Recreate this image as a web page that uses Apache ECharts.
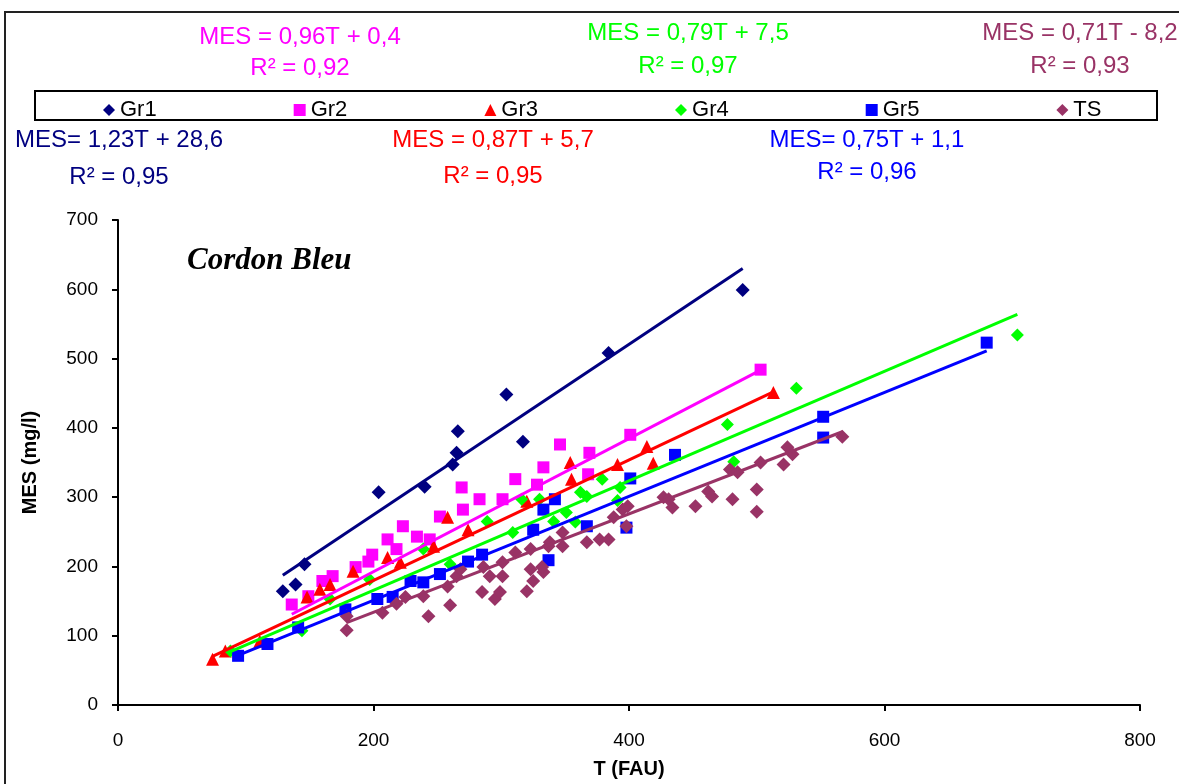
<!DOCTYPE html>
<html><head><meta charset="utf-8">
<script src="https://cdn.jsdelivr.net/npm/echarts@6/dist/echarts.min.js"></script>
<style>html,body{margin:0;padding:0;background:#fff}#c{width:1179px;height:784px}</style>
</head><body><div id="c"></div>
<script>
const seriesNames = ['Gr1','Gr2','Gr3','Gr4','Gr5','TS'];
const slopes = [1.23, 0.96, 0.87, 0.79, 0.75, 0.71];
const intercepts = [28.6, 0.4, 5.7, 7.5, 1.1, -8.2];
const eqLabels = ['MES= 1,23T + 28,6','MES = 0,96T + 0,4','MES = 0,87T + 5,7','MES = 0,79T + 7,5','MES= 0,75T + 1,1','MES = 0,71T - 8,2'];
const r2Labels = ['R² = 0,95','R² = 0,92','R² = 0,95','R² = 0,97','R² = 0,96','R² = 0,93'];
const xTitle = 'T (FAU)';
const yTitle = 'MES (mg/l)';
const plotLabel = 'Cordon Bleu';

const gr1 = [[129,164],[139,174],[146,203],[204,307],[240,315],[262,347],[265,364],[266,395],[304,448],[317,380],[384,508],[489,599]];
const gr2 = [[136,145],[149,157],[160,179],[168,186],[186,199],[196,207],[199,217],[211,239],[218,225],[223,258],[234,243],[244,239],[252,272],[269,314],[270,282],[283,297],[301,297],[311,326],[328,318],[333,343],[346,376],[368,333],[369,364],[401,390],[503,484]];
const gr3 = [[74,66],[84,78],[111,92],[148,156],[158,167],[166,174],[184,193],[211,213],[221,206],[247,229],[258,271],[274,253],[320,294],[354,350],[355,326],[391,347],[414,373],[419,349],[513,451]];
const gr4 = [[88,78],[144,107],[166,153],[197,181],[239,225],[260,203],[289,265],[309,249],[316,297],[330,297],[341,265],[351,278],[358,264],[362,307],[367,301],[379,326],[391,295],[393,314],[477,405],[482,351],[531,457],[704,534]];
const gr5 = [[94,71],[117,88],[141,112],[178,138],[203,153],[215,156],[229,179],[239,177],[252,189],[274,207],[285,217],[325,253],[333,282],[337,209],[342,297],[367,258],[398,256],[401,327],[436,361],[552,416],[552,386],[680,523]];
const ts = [[179,108],[179,128],[207,133],[218,146],[225,156],[239,157],[243,128],[260,144],[258,171],[265,186],[268,196],[285,163],[295,153],[299,163],[291,186],[286,199],[301,186],[301,206],[311,220],[323,225],[320,164],[325,179],[323,196],[333,192],[332,199],[337,229],[338,235],[348,229],[348,249],[367,235],[377,239],[384,239],[388,271],[395,282],[398,258],[399,287],[427,300],[431,297],[434,285],[452,287],[462,308],[465,301],[479,340],[481,297],[485,336],[500,311],[500,279],[503,350],[521,347],[524,372],[528,362],[567,387]];

const allData = [gr1, gr2, gr3, gr4, gr5, ts];

// styles
const colors = ['#000080','#FF00FF','#FF0000','#00FF00','#0000FF','#993366'];
const symbols = ['diamond','rect','triangle','diamond','rect','diamond'];
const symbolSizes = [14, 12, 13, 13, 12, 14];
const FONT = '"Liberation Sans", Arial, sans-serif';

const series = [];
allData.forEach((d, i) => {
  series.push({
    name: seriesNames[i], type: 'scatter', data: d,
    symbol: symbols[i], symbolSize: symbolSizes[i],
    itemStyle: { color: colors[i], opacity: 1 },
    z: 2 + i
  });
});
allData.forEach((d, i) => {
  const xs = d.map(p => p[0]);
  const x0 = Math.min(...xs), x1 = Math.max(...xs);
  series.push({
    name: seriesNames[i] + ' trend', type: 'line',
    data: [[x0, slopes[i]*x0 + intercepts[i]], [x1, slopes[i]*x1 + intercepts[i]]],
    symbol: 'none', silent: true,
    lineStyle: { color: colors[i], width: 3 },
    z: 10 + i
  });
});

const eqPos = [[119,140,177],[300,37,68],[493,140,176],[688,33,66],[867,140,172],[1080,33,66]];
const graphic = [
  { type: 'rect', shape: { x: 5, y: 12, width: 1300, height: 900 }, style: { fill: 'none', stroke: '#222', lineWidth: 2 }, z: 0 },
  { type: 'rect', shape: { x: 35, y: 91, width: 1122, height: 29 }, style: { fill: 'none', stroke: '#000', lineWidth: 2 }, z: 0 },
  { type: 'text', style: { text: plotLabel, x: 187, y: 261, fill: '#000', font: 'italic bold 31px "Liberation Serif", serif', textAlign: 'left', textVerticalAlign: 'middle' } }
];
eqPos.forEach((p, i) => {
  graphic.push({ type: 'text', style: { text: eqLabels[i], x: p[0], y: p[1], fill: colors[i], font: '24px ' + FONT, textAlign: 'center', textVerticalAlign: 'middle' } });
  graphic.push({ type: 'text', style: { text: r2Labels[i], x: p[0], y: p[2], fill: colors[i], font: '24px ' + FONT, textAlign: 'center', textVerticalAlign: 'middle' } });
});

const chart = echarts.init(document.getElementById('c'));
chart.setOption({
  animation: false,
  backgroundColor: '#fff',
  grid: { left: 118, right: 39, top: 220, bottom: 78, containLabel: false },
  legend: {
    data: seriesNames, left: 98, top: 94, itemGap: 137, itemWidth: 12, itemHeight: 12,
    textStyle: { fontSize: 22, color: '#000', fontFamily: FONT }, selectedMode: false
  },
  xAxis: {
    type: 'value', min: 0, max: 800, interval: 200,
    axisLine: { lineStyle: { color: '#000', width: 2 } },
    axisTick: { show: true, length: 6, lineStyle: { color: '#000', width: 2 } },
    splitLine: { show: false },
    axisLabel: { fontSize: 19, color: '#000', fontFamily: FONT, margin: 26 },
    name: xTitle, nameLocation: 'middle', nameGap: 54,
    nameTextStyle: { fontSize: 20, fontWeight: 'bold', color: '#000', fontFamily: FONT }
  },
  yAxis: {
    type: 'value', min: 0, max: 700, interval: 100,
    axisLine: { show: true, lineStyle: { color: '#000', width: 2 } },
    axisTick: { show: true, length: 6, lineStyle: { color: '#000', width: 2 } },
    splitLine: { show: false },
    axisLabel: { fontSize: 19, color: '#000', fontFamily: FONT, margin: 20 },
    name: yTitle, nameLocation: 'middle', nameGap: 78, nameRotate: 90,
    nameTextStyle: { fontSize: 20, fontWeight: 'bold', color: '#000', fontFamily: FONT }
  },
  graphic: graphic,
  series: series
});
</script>
</body></html>
